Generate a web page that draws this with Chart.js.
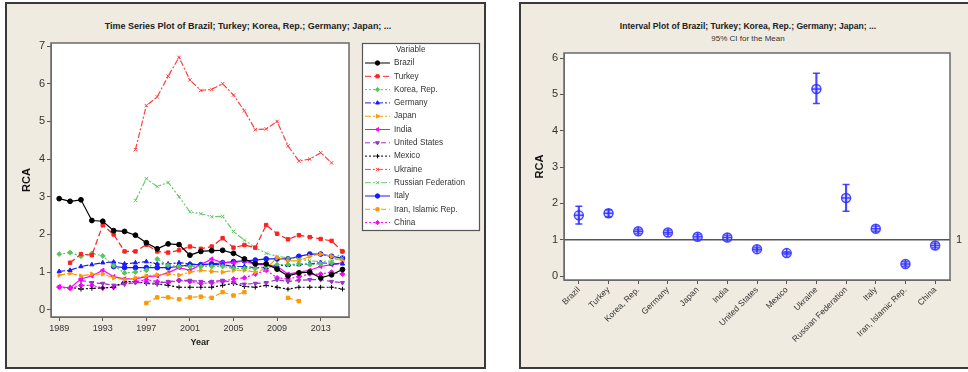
<!DOCTYPE html>
<html>
<head>
<meta charset="utf-8">
<script src="https://cdn.jsdelivr.net/npm/chart.js@4.4.1/dist/chart.umd.min.js"></script>
<style>
html,body{margin:0;padding:0;background:#fff;width:968px;height:372px;overflow:hidden;}
.panel{position:absolute;background:#efebe1;border:2px solid #3a3a3a;box-sizing:border-box;}
#p1{left:5px;top:2px;width:481px;height:367px;}
#p2{left:519px;top:2px;width:470px;height:367px;}
canvas{position:absolute;}
#c1{left:8px;top:5px;}
#c2{left:523px;top:5px;}
.ttl{position:absolute;white-space:nowrap;color:#222;font-family:"Liberation Sans",Arial,sans-serif;transform:translateX(-50%);}
.b1{font-weight:bold;font-size:9px;}
.b2{font-weight:bold;font-size:8.6px;}
.s{font-size:8px;color:#333;}
</style>
</head>
<body>
<div class="panel" id="p1"></div>
<div class="panel" id="p2"></div>
<div class="ttl b1" style="left:248px;top:21px;">Time Series Plot of Brazil; Turkey; Korea, Rep.; Germany; Japan; ...</div>
<div class="ttl b2" style="left:748px;top:21px;">Interval Plot of Brazil; Turkey; Korea, Rep.; Germany; Japan; ...</div>
<div class="ttl s" style="left:748px;top:34px;">95% CI for the Mean</div>
<canvas id="c1" width="474" height="360"></canvas>
<canvas id="c2" width="443" height="362"></canvas>
<script>
// ---- Annual RCA values, 1989-2015 ----
const years = [1989,1990,1991,1992,1993,1994,1995,1996,1997,1998,1999,2000,2001,2002,2003,2004,2005,2006,2007,2008,2009,2010,2011,2012,2013,2014,2015];

const brazil  = [2.95,2.88,2.92,2.37,2.35,2.10,2.08,1.98,1.78,1.62,1.75,1.73,1.45,1.55,1.57,1.58,1.50,1.35,1.22,1.22,1.08,0.90,0.98,1.00,0.85,0.93,1.07];
const turkey  = [null,1.25,1.48,1.45,2.25,2.00,1.55,1.55,1.73,1.55,1.52,1.58,1.68,1.62,1.68,1.90,1.65,1.72,1.65,2.25,2.02,1.87,1.98,1.93,1.88,1.83,1.55];
const korea   = [1.48,1.52,1.42,1.50,1.43,1.17,0.98,1.00,1.05,1.35,1.18,1.15,1.15,1.15,1.15,1.15,1.10,1.10,1.10,1.15,1.20,1.20,1.22,1.20,1.22,1.25,1.55];
const germany = [1.02,1.05,1.15,1.20,1.25,1.27,1.22,1.25,1.28,1.22,1.22,1.25,1.22,1.20,1.20,1.20,1.15,1.15,1.12,1.12,1.18,1.18,1.20,1.22,1.25,1.22,1.22];
const japan   = [0.92,0.97,0.90,0.95,0.95,0.85,0.80,0.85,0.90,0.93,0.95,0.92,1.00,1.05,1.02,1.00,1.05,1.05,1.00,1.10,1.38,1.30,1.30,1.42,1.48,1.42,1.30];
const india   = [0.62,0.58,0.82,0.90,1.05,0.88,0.82,0.82,0.88,0.90,0.98,1.12,1.05,1.20,1.35,1.25,1.25,1.30,1.20,1.20,1.15,0.95,1.00,1.05,1.15,1.20,1.25];
const usa     = [null,null,0.78,0.72,0.70,0.65,0.68,0.72,0.72,0.70,0.75,0.78,0.78,0.75,0.75,0.78,0.72,0.68,0.70,0.72,0.80,0.75,0.78,0.80,0.80,0.75,0.72];
const mexico  = [null,0.60,0.55,0.57,0.58,0.60,0.75,0.75,0.70,0.68,0.65,0.60,0.60,0.60,0.60,0.65,0.70,0.62,0.60,0.65,0.60,0.55,0.60,0.60,0.60,0.60,0.55];
const ukraine = [null,null,null,null,null,null,null,4.25,5.42,5.65,6.20,6.70,6.10,5.82,5.85,6.00,5.70,5.28,4.78,4.80,5.00,4.35,3.95,4.00,4.17,3.90,null];
const russia  = [null,null,null,null,null,null,null,2.90,3.48,3.27,3.38,3.00,2.60,2.55,2.47,2.48,2.08,1.85,1.65,1.50,1.42,1.38,1.35,1.30,1.28,1.30,1.38];
const italy   = [null,null,null,null,null,1.15,1.12,1.12,1.12,1.12,1.12,1.15,1.20,1.20,1.22,1.25,1.28,1.30,1.32,1.35,1.35,1.35,1.42,1.48,1.48,1.42,1.37];
const iran    = [null,null,null,null,null,null,null,null,0.18,0.33,0.33,0.28,0.33,0.35,0.32,0.47,0.38,0.47,null,null,null,0.32,0.23,null,null,null,null];
const china   = [0.60,0.57,0.65,0.65,0.58,0.60,0.72,0.75,0.80,0.75,0.72,0.78,0.75,0.70,0.72,0.75,0.82,0.85,0.95,1.05,0.85,0.82,0.88,0.95,0.95,1.00,0.95];

const seriesNames = ['Brazil','Turkey','Korea, Rep.','Germany','Japan','India','United States','Mexico','Ukraine','Russian Federation','Italy','Iran, Islamic Rep.','China'];
const seriesValues = [brazil,turkey,korea,germany,japan,india,usa,mexico,ukraine,russia,italy,iran,china];

const yearTicks = [1989,1993,1997,2001,2005,2009,2013];
const rcaTicksLeft = [0,1,2,3,4,5,6,7];

// ---- 95% confidence intervals for the mean RCA ----
const ciMean = [1.67,1.73,1.23,1.20,1.08,1.06,0.74,0.63,5.15,2.15,1.30,0.33,0.84];
const ciLow  = [1.43,1.63,1.17,1.15,1.01,0.99,0.69,0.59,4.75,1.78,1.23,0.27,0.78];
const ciHigh = [1.92,1.82,1.29,1.26,1.14,1.12,0.79,0.67,5.58,2.52,1.37,0.39,0.90];
const rcaTicksRight = [0,1,2,3,4,5,6];
const refLevel = 1;

// ---- look of each series ----
const F = '"Liberation Sans", Arial, sans-serif';
const looks = [
  {c:'#000000', d:[],            p:'circle',   r:0},
  {c:'#ff2020', d:[6,3],         p:'rect',     r:0},
  {c:'#55c855', d:[2,2],         p:'rectRot',  r:0},
  {c:'#1a1aff', d:[6,2,2,2],     p:'triangle', r:0},
  {c:'#ff9900', d:[6,2,2,2],     p:'triangle', r:90},
  {c:'#ff00ff', d:[],            p:'triangle', r:-90},
  {c:'#9933cc', d:[5,3],         p:'triangle', r:180},
  {c:'#000000', d:[2,2],         p:'cross',    r:0},
  {c:'#ff4040', d:[6,2,2,2],     p:'crossRot', r:0},
  {c:'#66cc66', d:[6,2,2,2,2,2], p:'crossRot', r:0},
  {c:'#1a1aff', d:[],            p:'circle',   r:0},
  {c:'#ff9900', d:[5,3],         p:'rect',     r:0},
  {c:'#ff00ff', d:[2,2],         p:'rectRot',  r:0}
];

const tsDatasets = seriesValues.map((vals, i) => ({
  label: seriesNames[i],
  data: years.map((yr, j) => ({x: yr, y: vals[j]})),
  borderColor: looks[i].c,
  backgroundColor: looks[i].c,
  borderWidth: 1.2,
  borderDash: looks[i].d,
  pointStyle: looks[i].p,
  pointRotation: looks[i].r,
  pointRadius: 2.4,
  pointBorderWidth: 1,
  spanGaps: false,
  tension: 0
}));

// white plot area with a grey frame
const plotFrame = {
  id: 'plotFrame',
  beforeDraw(chart) {
    const a = chart.chartArea, ctx = chart.ctx;
    ctx.save(); ctx.fillStyle = '#ffffff';
    ctx.fillRect(a.left, a.top, a.right - a.left, a.bottom - a.top);
    ctx.restore();
  },
  afterDraw(chart) {
    const a = chart.chartArea, ctx = chart.ctx;
    ctx.save(); ctx.strokeStyle = '#6a6a6a'; ctx.lineWidth = 1.5;
    ctx.strokeRect(a.left, a.top, a.right - a.left, a.bottom - a.top);
    ctx.restore();
  }
};

// boxed legend with line samples beside the plot
const legendBox = {
  id: 'legendBox',
  afterDraw(chart) {
    const ctx = chart.ctx;
    const x0 = 354, y0 = 38, x1 = 471, y1 = 225;
    ctx.save();
    ctx.fillStyle = '#ffffff';
    ctx.fillRect(x0, y0, x1 - x0, y1 - y0);
    ctx.strokeStyle = '#555'; ctx.lineWidth = 1.2;
    ctx.strokeRect(x0 + 0.5, y0 + 0.5, x1 - x0, y1 - y0);
    ctx.font = '8.2px ' + F; ctx.textBaseline = 'middle'; ctx.fillStyle = '#333';
    ctx.fillText('Variable', 388, 45);
    chart.data.datasets.forEach((ds, i) => {
      const y = 58 + i * 13.3;
      ctx.strokeStyle = ds.borderColor; ctx.fillStyle = ds.backgroundColor;
      ctx.lineWidth = 1; ctx.setLineDash(ds.borderDash);
      ctx.beginPath(); ctx.moveTo(357, y); ctx.lineTo(382, y); ctx.stroke();
      ctx.setLineDash([]);
      Chart.helpers.drawPoint(ctx, {pointStyle: ds.pointStyle, rotation: ds.pointRotation, radius: 2.2, borderWidth: 1}, 369.5, y);
      ctx.fillStyle = '#333';
      ctx.fillText(ds.label, 386, y);
    });
    ctx.restore();
  }
};

new Chart(document.getElementById('c1'), {
  type: 'line',
  data: {datasets: tsDatasets},
  options: {
    responsive: false, animation: false,
    layout: {padding: {top: 38, right: 133, left: 0, bottom: 0}},
    plugins: {legend: {display: false}, tooltip: {enabled: false}},
    scales: {
      x: {
        type: 'linear', min: 1988.25, max: 2015.6,
        afterBuildTicks: s => { s.ticks = yearTicks.map(v => ({value: v})); },
        afterFit: s => { s.height = 48; },
        ticks: {font: {size: 9, family: F}, color: '#333', padding: 2, maxRotation: 0, autoSkip: false, callback: v => String(v)},
        grid: {drawOnChartArea: false, drawTicks: true, tickLength: 4, color: '#555'},
        border: {display: true, color: '#6a6a6a'},
        title: {display: true, text: 'Year', color: '#222', font: {size: 9, weight: 'bold', family: F}, padding: {top: 0, bottom: 17}}
      },
      y: {
        min: -0.19, max: 7.08,
        afterBuildTicks: s => { s.ticks = rcaTicksLeft.map(v => ({value: v})); },
        afterFit: s => { s.width = 43; },
        ticks: {font: {size: 11, family: F}, color: '#333', padding: 2, autoSkip: false, callback: v => String(v)},
        grid: {drawOnChartArea: false, drawTicks: true, tickLength: 4, color: '#555'},
        border: {display: true, color: '#6a6a6a'},
        title: {display: true, text: 'RCA', color: '#111', font: {size: 11, weight: 'bold', family: F}, padding: {top: 12, bottom: 0}}
      }
    }
  },
  plugins: [plotFrame, legendBox]
});

// horizontal reference line with its label at the right
const refLine = {
  id: 'refLine',
  beforeDatasetsDraw(chart) {
    const a = chart.chartArea, ctx = chart.ctx;
    const y = chart.scales.y.getPixelForValue(refLevel);
    ctx.save();
    ctx.strokeStyle = '#555'; ctx.lineWidth = 1.5;
    ctx.beginPath(); ctx.moveTo(a.left, y); ctx.lineTo(a.right, y); ctx.stroke();
    ctx.fillStyle = '#333'; ctx.font = '11px ' + F; ctx.textBaseline = 'middle';
    ctx.fillText(String(refLevel), a.right + 6, y);
    ctx.restore();
  }
};

const blue = 'rgba(45,45,255,0.85)';
const markerBase = {type: 'line', showLine: false, pointBorderColor: blue, pointBorderWidth: 1.5};

new Chart(document.getElementById('c2'), {
  type: 'bar',
  data: {
    labels: seriesNames,
    datasets: [
      {type: 'bar', data: ciLow.map((lo, i) => [lo, ciHigh[i]]), backgroundColor: blue, barThickness: 1.5, order: 5},
      Object.assign({}, markerBase, {data: ciLow,  pointStyle: 'line', pointRadius: 3.5, order: 4}),
      Object.assign({}, markerBase, {data: ciHigh, pointStyle: 'line', pointRadius: 3.5, order: 3}),
      Object.assign({}, markerBase, {data: ciMean, pointStyle: 'circle', pointRadius: 4.5, pointBackgroundColor: 'rgba(140,140,255,0.35)', order: 2}),
      Object.assign({}, markerBase, {data: ciMean, pointStyle: 'cross', pointRadius: 4.5, order: 1})
    ]
  },
  options: {
    responsive: false, animation: false,
    layout: {padding: {top: 48, right: 16, left: 0, bottom: 0}},
    plugins: {legend: {display: false}, tooltip: {enabled: false}},
    scales: {
      x: {
        type: 'category', offset: true,
        afterFit: s => { s.height = 87; },
        ticks: {font: {size: 8.5, family: F}, color: '#333', padding: 1, minRotation: 45, maxRotation: 45, autoSkip: false},
        grid: {offset: false, drawOnChartArea: false, drawTicks: true, tickLength: 4, color: '#555'},
        border: {display: true, color: '#6a6a6a'}
      },
      y: {
        min: -0.11, max: 6.14,
        afterBuildTicks: s => { s.ticks = rcaTicksRight.map(v => ({value: v})); },
        afterFit: s => { s.width = 41; },
        ticks: {font: {size: 11, family: F}, color: '#333', padding: 2, autoSkip: false, callback: v => String(v)},
        grid: {drawOnChartArea: false, drawTicks: true, tickLength: 4, color: '#555'},
        border: {display: true, color: '#6a6a6a'},
        title: {display: true, text: 'RCA', color: '#111', font: {size: 11, weight: 'bold', family: F}, padding: {top: 10, bottom: 0}}
      }
    }
  },
  plugins: [plotFrame, refLine]
});
</script>
</body>
</html>
